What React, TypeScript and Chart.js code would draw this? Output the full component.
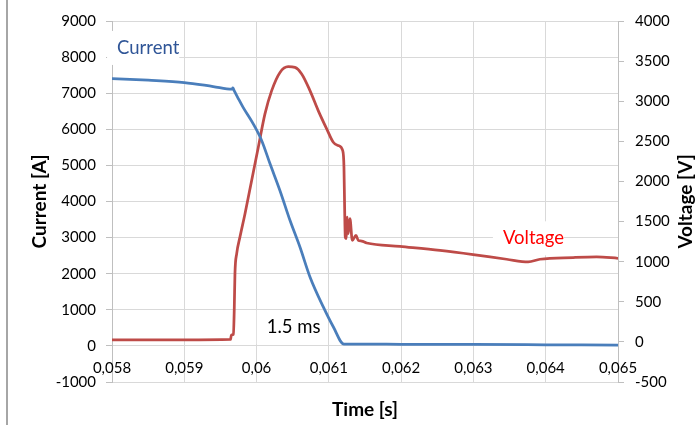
import React, { useEffect, useRef } from "react";
import { Chart, registerables } from "chart.js";
Chart.register(...registerables);

// ---- Data ----
const currentTime = [
  0.058, 0.0585, 0.059, 0.0594, 0.05966, 0.059672, 0.05969, 0.05974, 0.059816,
  0.059954, 0.06007, 0.060185, 0.060324, 0.060462, 0.0606, 0.060739, 0.060923,
  0.061061, 0.061209, 0.0615, 0.062, 0.063, 0.064, 0.065,
];
const currentValues = [
  7406, 7360, 7296, 7185, 7110, 7145, 7070, 6880, 6600, 6150, 5690, 5050, 4300,
  3480, 2740, 1910, 1080, 530, 50, 50, 45, 40, 30, 20,
];

const voltageTime = [
  0.058, 0.059, 0.05964, 0.05965, 0.05968, 0.059692, 0.059701, 0.059725,
  0.05977, 0.05984, 0.059932, 0.060024, 0.060116, 0.060209, 0.060324, 0.060438,
  0.060531, 0.060624, 0.060739, 0.060853, 0.06097, 0.061061, 0.06113, 0.061191,
  0.061209, 0.061218, 0.061227, 0.061237, 0.061255, 0.061268, 0.061292,
  0.061324, 0.061375, 0.061407, 0.061454, 0.061523, 0.061983, 0.062537,
  0.062997, 0.063459, 0.063758, 0.06392, 0.06438, 0.064704, 0.065,
];
const voltageValues = [
  25, 25, 30, 85, 95, 436, 852, 1100, 1307, 1598, 2012, 2427, 2842, 3132, 3359,
  3430, 3422, 3340, 3132, 2883, 2655, 2489, 2448, 2386, 2178, 1680, 1307, 1287,
  1556, 1350, 1536, 1266, 1328, 1266, 1257, 1233, 1191, 1140, 1088, 1030, 996,
  1030, 1051, 1059, 1042,
];

const xTickMin = 0.058;
const xTickMax = 0.065;
const xTickStep = 0.001;
const leftTicks = { min: -1000, max: 9000, step: 1000 };
const rightTicks = { min: -500, max: 4000, step: 500 };

const labelTexts = ["Current", "Voltage", "1.5 ms"];
const labelX = [0.05807, 0.063408, 0.060141];
const labelY = [8254, 1291, 519];
const labelAxis = ["y", "y1", "y"];
const labelColors = ["#2f5597", "#ff0000", "#000000"];

const FONT = "Lato, 'Open Sans', sans-serif";
const GRID = "#d9d9d9";
const AXIS = "#bfbfbf";
const TEXT = "#000000";
const TICK_SIZE = 15;
const TITLE_SIZE = 19;
const NOTE_SIZE = 18.5;

const fmtComma = (v: number) =>
  String(parseFloat(Number(v).toFixed(4))).replace(".", ",");

const annotPlugin = {
  id: "annot",
  beforeDatasetsDraw(chart: any) {
    const ctx = chart.ctx;
    ctx.save();
    ctx.font = `${NOTE_SIZE}px ${FONT}`;
    labelTexts.forEach((t, i) => {
      const px = chart.scales.x.getPixelForValue(labelX[i]);
      const py = chart.scales[labelAxis[i]].getPixelForValue(labelY[i]);
      const w = ctx.measureText(t).width;
      ctx.fillStyle = "#ffffff";
      ctx.fillRect(px - 10, py - 17, w + 10, 34);
    });
    ctx.restore();
  },
  afterDatasetsDraw(chart: any) {
    const ctx = chart.ctx;
    ctx.save();
    ctx.font = `${NOTE_SIZE}px ${FONT}`;
    ctx.textBaseline = "middle";
    ctx.textAlign = "left";
    labelTexts.forEach((t, i) => {
      const px = chart.scales.x.getPixelForValue(labelX[i]);
      const py = chart.scales[labelAxis[i]].getPixelForValue(labelY[i]);
      ctx.fillStyle = labelColors[i];
      ctx.fillText(t, px, py);
    });
    ctx.restore();
  },
  afterDraw(chart: any) {
    const ctx = chart.ctx;
    const ca = chart.chartArea;
    ctx.save();
    // x tick labels, drawn inside the plot just under the zero line
    const xs = chart.scales.x;
    ctx.font = `${TICK_SIZE}px ${FONT}`;
    ctx.fillStyle = TEXT;
    ctx.textAlign = "center";
    ctx.textBaseline = "middle";
    xs.ticks.forEach((tk: any) => {
      ctx.fillText(fmtComma(tk.value), xs.getPixelForValue(tk.value), ca.bottom - 14);
    });
    // right axis title, reading bottom-to-top
    const y1 = chart.scales.y1;
    ctx.translate(y1.right - 11, (ca.top + ca.bottom) / 2);
    ctx.rotate(-Math.PI / 2);
    ctx.font = `bold ${TITLE_SIZE}px ${FONT}`;
    ctx.fillText("Voltage [V]", 0, 0);
    ctx.restore();
  },
};

export default function App() {
  const ref = useRef<HTMLCanvasElement>(null);
  useEffect(() => {
    const canvas = ref.current!;
    const chart = new Chart(canvas, {
      type: "line",
      data: {
        datasets: [
          {
            label: "Current",
            data: currentTime.map((t, i) => ({ x: t, y: currentValues[i] })),
            yAxisID: "y",
            borderColor: "#4a7ebb",
            borderWidth: 2.75,
            pointRadius: 0,
            cubicInterpolationMode: "monotone",
            fill: false,
          },
          {
            label: "Voltage",
            data: voltageTime.map((t, i) => ({ x: t, y: voltageValues[i] })),
            yAxisID: "y1",
            borderColor: "#be4b48",
            borderWidth: 2.75,
            pointRadius: 0,
            cubicInterpolationMode: "monotone",
            fill: false,
          },
        ],
      },
      options: {
        animation: false,
        responsive: true,
        maintainAspectRatio: false,
        layout: { padding: { top: 21, left: 0, right: 0, bottom: 0 } },
        plugins: { legend: { display: false }, tooltip: { enabled: false } },
        scales: {
          x: {
            type: "linear",
            position: "bottom",
            min: xTickMin,
            max: xTickMax,
            ticks: {
              stepSize: xTickStep,
              display: false,
              autoSkip: false,
              maxRotation: 0,
            },
            grid: { color: GRID, drawTicks: false },
            border: { display: false },
            title: {
              display: true,
              text: "Time [s]",
              color: TEXT,
              font: { family: FONT, size: TITLE_SIZE, weight: "bold" },
              padding: { top: 0, bottom: 4 },
            },
            afterFit: (s: any) => {
              s.height = 43;
            },
          },
          y: {
            type: "linear",
            position: "left",
            min: leftTicks.min,
            max: leftTicks.max,
            ticks: {
              stepSize: leftTicks.step,
              padding: 10,
              font: { family: FONT, size: TICK_SIZE },
              color: TEXT,
              callback: (v: any) => String(v),
            },
            grid: { color: GRID, tickColor: AXIS, tickLength: 6 },
            border: { color: AXIS },
            title: {
              display: true,
              text: "Current [A]",
              color: TEXT,
              font: { family: FONT, size: TITLE_SIZE, weight: "bold" },
              padding: { top: 28.5, bottom: 0 },
            },
            afterFit: (s: any) => {
              s.width = 112;
            },
          },
          y1: {
            type: "linear",
            position: "right",
            min: rightTicks.min,
            max: rightTicks.max,
            ticks: {
              stepSize: rightTicks.step,
              padding: 11,
              font: { family: FONT, size: TICK_SIZE },
              color: TEXT,
              callback: (v: any) => String(v),
            },
            grid: {
              drawOnChartArea: false,
              tickColor: AXIS,
              tickLength: 6,
            },
            border: { color: AXIS },
            afterFit: (s: any) => {
              s.width = 79;
            },
          },
        },
      } as any,
      plugins: [annotPlugin],
    });
    return () => chart.destroy();
  }, []);
  return (
    <div
      style={{
        position: "fixed",
        left: 0,
        top: 0,
        width: 697,
        height: 425,
        background: "#ffffff",
      }}
    >
      <div
        style={{
          position: "absolute",
          left: 6,
          top: 0,
          width: 1.5,
          height: 425,
          background: "#a6a6a6",
        }}
      />
      <canvas ref={ref} />
    </div>
  );
}
